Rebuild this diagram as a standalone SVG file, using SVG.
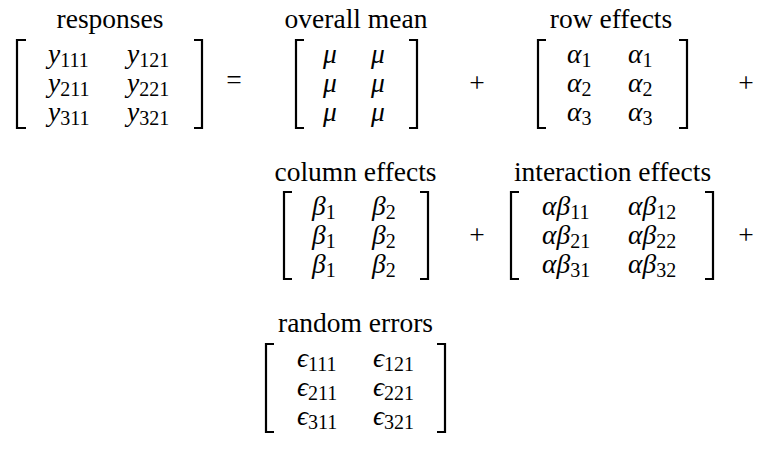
<svg xmlns="http://www.w3.org/2000/svg" width="766" height="449" viewBox="0 0 766 449">
<style>
.t{font-size:27.5px;fill:#000;text-anchor:middle}
.m{font-size:27.5px;font-style:italic;fill:#000}
.s{font-size:20px;font-style:normal}
.op{font-size:27.5px;fill:#000;text-anchor:middle}
.br{fill:none;stroke:#000;stroke-width:2.2}
</style>
<rect width="766" height="449" fill="#fff"/>
<g font-family="Liberation Serif, serif">

<g id="responses">
<text class="t" x="110" y="28">responses</text>
<path class="br" d="M26 40H17V128H26"/>
<path class="br" d="M194 40H202V128H194"/>
<text class="m" x="48" y="63">y<tspan class="s" dy="4">111</tspan></text>
<text class="m" x="127" y="63">y<tspan class="s" dy="4">121</tspan></text>
<text class="m" x="48" y="92">y<tspan class="s" dy="4">211</tspan></text>
<text class="m" x="127" y="92">y<tspan class="s" dy="4">221</tspan></text>
<text class="m" x="48" y="121">y<tspan class="s" dy="4">311</tspan></text>
<text class="m" x="127" y="121">y<tspan class="s" dy="4">321</tspan></text>
</g>

<text class="op" x="234" y="89">=</text>

<g id="overall-mean">
<text class="t" x="356" y="28">overall mean</text>
<path class="br" d="M304 40H296V128H304"/>
<path class="br" d="M409 40H417V128H409"/>
<text class="m" x="330" y="63" text-anchor="middle">μ</text>
<text class="m" x="378" y="63" text-anchor="middle">μ</text>
<text class="m" x="330" y="92" text-anchor="middle">μ</text>
<text class="m" x="378" y="92" text-anchor="middle">μ</text>
<text class="m" x="330" y="121" text-anchor="middle">μ</text>
<text class="m" x="378" y="121" text-anchor="middle">μ</text>
</g>

<text class="op" x="477" y="92">+</text>

<g id="row-effects">
<text class="t" x="611" y="28">row effects</text>
<path class="br" d="M546 40H538V128H546"/>
<path class="br" d="M679 40H687V128H679"/>
<text class="m" x="567" y="63">α<tspan class="s" dy="4">1</tspan></text>
<text class="m" x="628" y="63">α<tspan class="s" dy="4">1</tspan></text>
<text class="m" x="567" y="92">α<tspan class="s" dy="4">2</tspan></text>
<text class="m" x="628" y="92">α<tspan class="s" dy="4">2</tspan></text>
<text class="m" x="567" y="121">α<tspan class="s" dy="4">3</tspan></text>
<text class="m" x="628" y="121">α<tspan class="s" dy="4">3</tspan></text>
</g>

<text class="op" x="746" y="92">+</text>

<g id="column-effects">
<text class="t" x="355.5" y="181">column effects</text>
<path class="br" d="M292 192H284V279H292"/>
<path class="br" d="M420 192H428V279H420"/>
<text class="m" x="312" y="215">β<tspan class="s" dy="4">1</tspan></text>
<text class="m" x="372" y="215">β<tspan class="s" dy="4">2</tspan></text>
<text class="m" x="312" y="244">β<tspan class="s" dy="4">1</tspan></text>
<text class="m" x="372" y="244">β<tspan class="s" dy="4">2</tspan></text>
<text class="m" x="312" y="273">β<tspan class="s" dy="4">1</tspan></text>
<text class="m" x="372" y="273">β<tspan class="s" dy="4">2</tspan></text>
</g>

<text class="op" x="477" y="244">+</text>

<g id="interaction-effects">
<text class="t" x="612.5" y="181">interaction effects</text>
<path class="br" d="M519 192H511V279H519"/>
<path class="br" d="M705 192H713V279H705"/>
<text class="m" x="542" y="215">αβ<tspan class="s" dy="4">11</tspan></text>
<text class="m" x="628" y="215">αβ<tspan class="s" dy="4">12</tspan></text>
<text class="m" x="542" y="244">αβ<tspan class="s" dy="4">21</tspan></text>
<text class="m" x="628" y="244">αβ<tspan class="s" dy="4">22</tspan></text>
<text class="m" x="542" y="273">αβ<tspan class="s" dy="4">31</tspan></text>
<text class="m" x="628" y="273">αβ<tspan class="s" dy="4">32</tspan></text>
</g>

<text class="op" x="746" y="244">+</text>

<g id="random-errors">
<text class="t" x="355.5" y="332">random errors</text>
<path class="br" d="M274 344H266V432H274"/>
<path class="br" d="M437 344H445V432H437"/>
<text class="m" x="297" y="367">ϵ<tspan class="s" dy="4">111</tspan></text>
<text class="m" x="373" y="367">ϵ<tspan class="s" dy="4">121</tspan></text>
<text class="m" x="297" y="396">ϵ<tspan class="s" dy="4">211</tspan></text>
<text class="m" x="373" y="396">ϵ<tspan class="s" dy="4">221</tspan></text>
<text class="m" x="297" y="425">ϵ<tspan class="s" dy="4">311</tspan></text>
<text class="m" x="373" y="425">ϵ<tspan class="s" dy="4">321</tspan></text>
</g>
</g>
</svg>
